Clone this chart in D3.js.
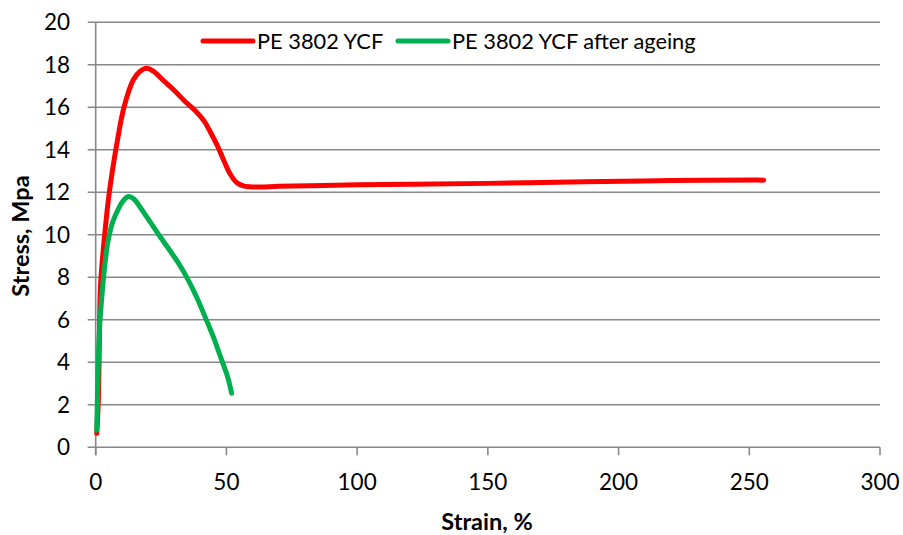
<!DOCTYPE html>
<html><head><meta charset="utf-8">
<script src="https://cdn.jsdelivr.net/npm/d3@7"></script>
<style>body{margin:0;background:#fff}svg{display:block}text{font-family:Lato,"Open Sans",sans-serif;fill:#000}</style>
</head><body><svg id="c" width="903" height="535"></svg>
<script>
const seriesNames = ["PE 3802 YCF", "PE 3802 YCF after ageing"];
const seriesColors = ["#ff0000", "#00b050"];
const redStrain = [0.4,1.0,1.4,1.8,2.6,3.6,4.8,6.5,8.4,10.8,14.4,17,19.5,22,26,30,34,38,41.5,44,46.5,49,51.5,54,56.5,59,63,70,100,121,150,187,220,253,255.5];
const redStress = [0.66,2.2,5.0,7.5,8.9,10.2,11.6,13.1,14.5,16.0,17.3,17.7,17.84,17.7,17.25,16.8,16.3,15.85,15.35,14.8,14.2,13.5,12.85,12.45,12.3,12.26,12.25,12.28,12.35,12.38,12.42,12.5,12.55,12.58,12.57];
const greenStrain = [0.4,0.8,1.2,1.65,2.3,2.9,3.8,4.8,6.5,8.6,10.5,12.5,14.5,17,21.4,25,29.1,32,35.4,38.5,41.8,45,48.2,50.5,52];
const greenStress = [0.8,3.0,4.8,6.0,7.0,7.87,8.9,9.75,10.6,11.2,11.6,11.8,11.7,11.3,10.5,9.85,9.13,8.6,7.87,7.1,6.15,5.2,4.1,3.3,2.54];
const xTicks = [0,50,100,150,200,250,300];
const yTicks = [0,2,4,6,8,10,12,14,16,18,20];
const xTitle = "Strain, %";
const yTitle = "Stress, Mpa";

const svg = d3.select("#c");
const x = d3.scaleLinear().domain([0,300]).range([95.7,880]);
const y = d3.scaleLinear().domain([0,20]).range([447.3,22.3]);
const grid = "#888888";

svg.append("g").selectAll("line").data(yTicks).join("line")
  .attr("x1", x(0)-8).attr("x2", x(300))
  .attr("y1", d=>y(d)).attr("y2", d=>y(d))
  .attr("stroke", grid).attr("stroke-width", 1.6);

svg.append("line").attr("x1", x(0)).attr("x2", x(0)).attr("y1", y(20)).attr("y2", y(0)+8)
  .attr("stroke", grid).attr("stroke-width", 1.6);

svg.append("g").selectAll("line").data(xTicks).join("line")
  .attr("x1", d=>x(d)).attr("x2", d=>x(d)).attr("y1", y(0)).attr("y2", y(0)+8)
  .attr("stroke", grid).attr("stroke-width", 1.6);

svg.append("g").selectAll("text").data(yTicks).join("text")
  .attr("x", 70).attr("y", d=>y(d)).attr("dy", "0.36em")
  .attr("text-anchor", "end").attr("font-size", 22.5).text(d=>d);
svg.append("g").selectAll("text").data(xTicks).join("text")
  .attr("x", d=>x(d)).attr("y", 490)
  .attr("text-anchor", "middle").attr("font-size", 22.5).text(d=>d);

svg.append("text").attr("x", 487).attr("y", 530).attr("text-anchor","middle")
  .attr("font-size", 23.5).attr("font-weight","bold").text(xTitle);
svg.append("text").attr("transform","translate(29,236) rotate(-90)").attr("text-anchor","middle")
  .attr("font-size", 23.5).attr("font-weight","bold").text(yTitle);

const line = d3.line().x(d=>x(d[0])).y(d=>y(d[1])).curve(d3.curveCatmullRom.alpha(0.5));
const red = redStrain.map((v,i)=>[v, redStress[i]]);
const green = greenStrain.map((v,i)=>[v, greenStress[i]]);
[red, green].forEach((data,i)=>{
  svg.append("path").datum(data).attr("d", line).attr("fill","none")
    .attr("stroke", seriesColors[i]).attr("stroke-width", 5)
    .attr("stroke-linejoin","round").attr("stroke-linecap","round");
});

const legX = [203, 398];
seriesNames.forEach((n,i)=>{
  svg.append("line").attr("x1", legX[i]).attr("x2", legX[i]+50).attr("y1", 41).attr("y2", 41)
    .attr("stroke", seriesColors[i]).attr("stroke-width", 5).attr("stroke-linecap","round");
  svg.append("text").attr("x", legX[i]+54).attr("y", 41).attr("dy","0.36em")
    .attr("font-size", 21.8).text(n);
});
</script></body></html>
